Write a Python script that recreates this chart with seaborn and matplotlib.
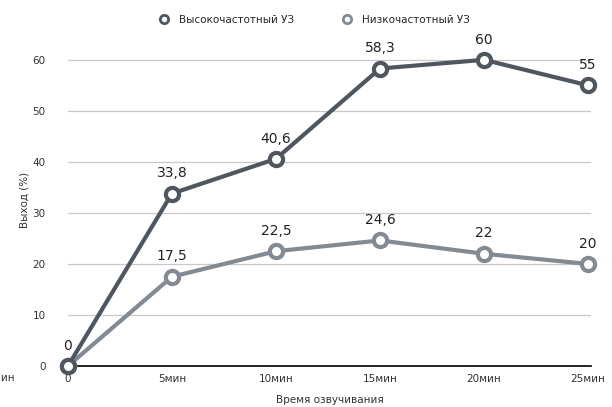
import pandas as pd
import matplotlib.pyplot as plt
import seaborn as sns
from matplotlib.lines import Line2D

# Data
times = [0, 5, 10, 15, 20, 25]
tick_labels = ['0', '5мин', '10мин', '15мин', '20мин', '25мин']
high_freq = [0, 33.8, 40.6, 58.3, 60, 55]
low_freq = [0, 17.5, 22.5, 24.6, 22, 20]
series_names = ['Высокочастотный УЗ', 'Низкочастотный УЗ']

df = pd.DataFrame({
    'time': times * 2,
    'value': high_freq + low_freq,
    'series': [series_names[0]] * len(times) + [series_names[1]] * len(times),
})

sns.set_style('white')
plt.rcParams['font.family'] = ['DejaVu Sans']

fig = plt.figure(figsize=(6.12, 4.07), dpi=100)
ax = fig.add_axes([0.111, 0.1007, 0.855, 0.815])

palette = {series_names[0]: '#50565d', series_names[1]: '#838a92'}

# Horizontal gridlines
for y in range(10, 70, 10):
    ax.axhline(y, color='#c8c8c8', lw=0.9, zorder=0)

# low series drawn first so dark one sits on top
for name in [series_names[1], series_names[0]]:
    sub = df[df['series'] == name]
    sns.lineplot(data=sub, x='time', y='value', ax=ax, color=palette[name],
                 linewidth=3.0, marker='o', markersize=9.5, markerfacecolor='white',
                 markeredgecolor=palette[name], markeredgewidth=3, legend=False,
                 zorder=3, clip_on=False)

# Data labels
def fmt(v):
    return f'{v:g}'.replace('.', ',')

for x, v in zip(times, high_freq):
    ax.text(x, v + 2.6, fmt(v), ha='center', va='bottom', fontsize=10, color='#222222')
for x, v in zip(times, low_freq):
    if x == 0:
        continue
    ax.text(x, v + 2.6, fmt(v), ha='center', va='bottom', fontsize=10, color='#222222')

ax.set_xlim(0, 25.15)
ax.set_ylim(0, 65)
ax.set_xticks(times)
ax.set_xticklabels(tick_labels, fontsize=7.5, color='#333333')
ax.set_yticks(range(0, 70, 10))
ax.tick_params(axis='y', labelsize=7.5, colors='#333333', length=0, pad=16)
ax.tick_params(axis='x', length=0, pad=6)
ax.set_xlabel('Время озвучивания', fontsize=7.5, color='#333333', labelpad=8)
ax.set_ylabel('Выход (%)', fontsize=7.5, color='#333333', labelpad=2)

for side in ['top', 'right', 'left']:
    ax.spines[side].set_visible(False)
ax.spines['bottom'].set_color('black')
ax.spines['bottom'].set_linewidth(1.2)
ax.spines['bottom'].set_zorder(1)

# clipped label at the far left edge, as in the reference
fig.text(-0.012, 0.064, 'мин', fontsize=7.5, color='#333333')

# Legend with marker-only proxies
handles = [Line2D([], [], linestyle='none', marker='o', markersize=6,
                  markerfacecolor='white', markeredgecolor=palette[n],
                  markeredgewidth=2) for n in series_names]
ax.legend(handles, series_names,
          loc='lower center', bbox_to_anchor=(0.47, 1.0), ncol=2, frameon=False,
          fontsize=7.5, handletextpad=0.8, columnspacing=4.5, handlelength=1.2)

plt.savefig('out.png', dpi=100)
